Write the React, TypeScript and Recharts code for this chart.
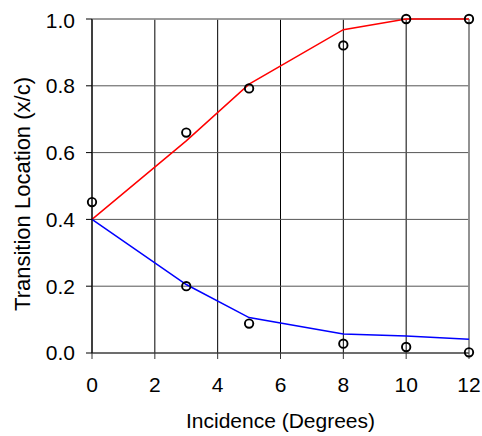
import React from "react";
import {
  CartesianGrid,
  ComposedChart,
  Line,
  ReferenceLine,
  Scatter,
  XAxis,
  YAxis,
} from "recharts";

// incidence angles (degrees)
const incidence = [0, 3, 5, 8, 10, 12];
// predicted transition, upper and lower surface
const upperPredicted = [0.4, 0.635, 0.805, 0.968, 1.0, 1.0];
const lowerPredicted = [0.4, 0.205, 0.106, 0.057, 0.051, 0.041];
// measured points
const upperMeasured = [0.452, 0.66, 0.792, 0.921, 1.0, 1.0];
const lowerMeasured = [null, 0.2, 0.088, 0.028, 0.018, 0.002];

const xTicks = [0, 2, 4, 6, 8, 10, 12];
const yTicks = [0, 0.2, 0.4, 0.6, 0.8, 1.0];

const data = incidence.map((x, i) => ({
  x,
  upper: upperPredicted[i],
  lower: lowerPredicted[i],
}));

const measured = incidence
  .map((x, i) => [
    { x, y: upperMeasured[i] },
    { x, y: lowerMeasured[i] },
  ])
  .flat()
  .filter((p) => p.y !== null);

const font = "'Liberation Sans', Arial, sans-serif";

const OpenCircle = (props: any) => (
  <circle
    cx={props.cx}
    cy={props.cy}
    r={4.2}
    fill="none"
    stroke="#000"
    strokeWidth={1.9}
  />
);

const YLabel = (props: any) => {
  const vb = props.viewBox || {};
  const x = vb.x + 14;
  const y = vb.y + vb.height / 2 + 8;
  return (
    <text
      x={x}
      y={y}
      transform={`rotate(-90, ${x}, ${y})`}
      textAnchor="middle"
      dominantBaseline="central"
      fill="#000"
      fontSize={22}
      fontFamily={font}
    >
      Transition Location (x/c)
    </text>
  );
};

export default function App() {
  return (
    <div style={{ fontFamily: font, padding: "8px 0 0 8px", width: 474 }}>
      <style>{`html,body{margin:0;overflow:hidden}`}</style>
      <ComposedChart
        width={474}
        height={428}
        data={data}
        margin={{ top: 11, right: 13, left: 0, bottom: 8 }}
      >
        <CartesianGrid horizontal={false} stroke="#000" strokeWidth={1} />
        <CartesianGrid vertical={false} stroke="#555" strokeWidth={1} />
        <ReferenceLine x={12} stroke="#999" strokeWidth={1.5} />
        <ReferenceLine y={1} stroke="#999" strokeWidth={1.5} />
        <XAxis
          dataKey="x"
          type="number"
          domain={[0, 12]}
          ticks={xTicks}
          tickSize={6}
          tickMargin={18}
          height={75}
          stroke="#333"
          tick={{ fill: "#000", fontSize: 21, fontFamily: font }}
          label={{
            value: "Incidence (Degrees)",
            position: "insideBottom",
            offset: 0,
            style: { fill: "#000", fontSize: 21, fontFamily: font },
          }}
        />
        <YAxis
          type="number"
          domain={[0, 1]}
          ticks={yTicks}
          tickFormatter={(v: number) => v.toFixed(1)}
          tickSize={6}
          tickMargin={11}
          width={84}
          stroke="#000"
          tick={{ fill: "#000", fontSize: 21, fontFamily: font }}
          label={{ content: YLabel }}
        />
        <Line
          dataKey="upper"
          type="linear"
          stroke="#ff0000"
          strokeWidth={1.5}
          dot={false}
          isAnimationActive={false}
        />
        <Line
          dataKey="lower"
          type="linear"
          stroke="#0000ff"
          strokeWidth={1.5}
          dot={false}
          isAnimationActive={false}
        />
        <Scatter
          data={measured}
          dataKey="y"
          shape={OpenCircle}
          isAnimationActive={false}
        />
      </ComposedChart>
    </div>
  );
}
